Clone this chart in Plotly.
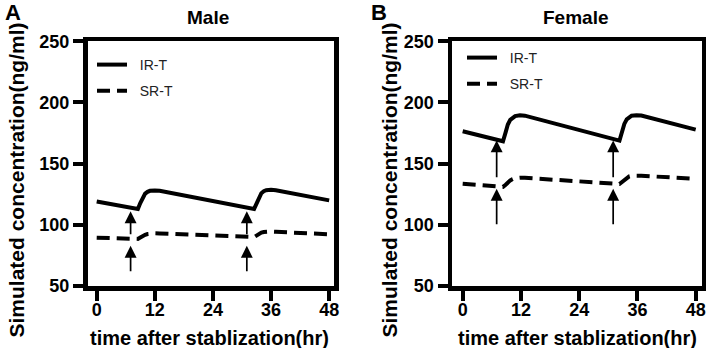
import plotly.graph_objects as go

# ---------------- data ----------------
x_ticks = [0, 12, 24, 36, 48]
y_ticks = [50, 100, 150, 200, 250]

male_ir_t = [0, 8.5, 9.0, 9.5, 10.0, 10.5, 11.0, 12.0, 13.0, 32.5, 33.0, 33.5, 34.0, 34.5, 35.0, 36.0, 37.0, 48]
male_ir = [119.0, 112.9, 117.8, 122.3, 125.5, 127.0, 127.8, 128.1, 127.8, 113.0, 117.9, 122.6, 125.9, 127.5, 128.3, 128.6, 128.3, 120.0]

male_sr_t = [0, 7.5, 8.5, 9.0, 9.5, 10.0, 10.5, 11.0, 12.0, 13.0, 32.5, 33.0, 33.5, 34.0, 34.5, 35.0, 36.0, 37.0, 48]
male_sr = [89.5, 88.9, 88.5, 89.6, 90.9, 91.9, 92.5, 92.9, 93.1, 93.0, 90.0, 91.2, 92.6, 93.6, 94.1, 94.4, 94.5, 94.3, 92.3]

female_ir_t = [0, 8.3, 8.8, 9.3, 9.8, 10.3, 10.8, 11.8, 12.8, 32.3, 32.8, 33.3, 33.8, 34.3, 34.8, 35.8, 36.8, 48]
female_ir = [176.5, 168.3, 175.0, 182.0, 185.8, 187.8, 188.9, 189.5, 189.2, 168.8, 175.5, 182.5, 186.2, 188.2, 189.2, 189.6, 189.3, 177.8]

female_sr_t = [0, 7.5, 8.3, 8.8, 9.3, 9.8, 10.3, 10.8, 11.8, 12.8, 32.3, 32.8, 33.3, 33.8, 34.3, 34.8, 35.8, 36.8, 48]
female_sr = [133.5, 131.8, 131.0, 132.6, 134.6, 136.3, 137.4, 138.1, 138.5, 138.4, 133.4, 134.8, 136.8, 138.5, 139.6, 140.1, 140.3, 140.1, 137.6]

# dosing arrows: times, (tip, tail) of upper and lower arrows
dose_times = [7, 31]
male_arrow_upper = [111.0, 91.0]
male_arrow_lower = [82.8, 60.9]
female_arrow_upper = [169.0, 137.6]
female_arrow_lower = [129.4, 99.2]

panel_titles = ["Male", "Female"]
panel_letters = ["A", "B"]
series_names = ["IR-T", "SR-T"]
y_title = "Simulated concentration(ng/ml)"
x_title = "time after stablization(hr)"

# ---------------- layout helpers ----------------
W, H = 706, 348
FONT = "Liberation Sans, Arial, sans-serif"


def fx(p):
    return p / W


def fy(p):
    return 1 - p / H


fig = go.Figure()

line_solid = dict(color="black", width=4)
line_dash = dict(color="black", width=4, dash="13px,7px")
pad = "&nbsp;&nbsp;"

fig.add_trace(go.Scatter(x=male_ir_t, y=male_ir, mode="lines", line=line_solid, name=pad + series_names[0],
                         legend="legend", legendgroup="a1", xaxis="x", yaxis="y"))
fig.add_trace(go.Scatter(x=male_sr_t, y=male_sr, mode="lines", line=line_dash, name=pad + series_names[1],
                         legend="legend", legendgroup="a2", xaxis="x", yaxis="y"))
fig.add_trace(go.Scatter(x=female_ir_t, y=female_ir, mode="lines", line=line_solid, name=pad + series_names[0],
                         legend="legend2", legendgroup="b1", xaxis="x2", yaxis="y2"))
fig.add_trace(go.Scatter(x=female_sr_t, y=female_sr, mode="lines", line=line_dash, name=pad + series_names[1],
                         legend="legend2", legendgroup="b2", xaxis="x2", yaxis="y2"))

tickfont = dict(family=FONT, size=18, color="black", weight="bold")
common_axis = dict(showline=True, linewidth=4.5, linecolor="black", mirror=True,
                   ticks="outside", ticklen=10, tickwidth=4, tickcolor="black",
                   showgrid=False, zeroline=False, tickfont=tickfont, automargin=False,
                   fixedrange=True)
xt = dict(tickvals=x_ticks, ticktext=["<b>%d</b>" % v for v in x_ticks], ticklabelstandoff=-6)
yt = dict(tickvals=y_ticks, ticktext=["<b>%d</b>" % v for v in y_ticks])

fig.update_layout(
    template="none",
    width=W, height=H, autosize=False,
    margin=dict(l=0, r=0, t=0, b=0),
    paper_bgcolor="white", plot_bgcolor="white",
    xaxis=dict(domain=[fx(87.5), fx(334)], range=[-1.9, 49], anchor="y", **xt, **common_axis),
    yaxis=dict(domain=[fy(286), fy(41.3)], range=[50, 250], anchor="x", **yt, **common_axis),
    xaxis2=dict(domain=[fx(452), fx(702)], range=[-2.2, 49.3], anchor="y2", **xt, **common_axis),
    yaxis2=dict(domain=[fy(286), fy(41.3)], range=[50, 250], anchor="x2", **yt, **common_axis),
    legend=dict(x=fx(92), y=fy(49), xanchor="left", yanchor="top", bgcolor="rgba(0,0,0,0)",
                font=dict(family=FONT, size=14, color="#222"), tracegroupgap=5),
    legend2=dict(x=fx(462), y=fy(42), xanchor="left", yanchor="top", bgcolor="rgba(0,0,0,0)",
                 font=dict(family=FONT, size=14, color="#222"), tracegroupgap=5),
)

ann = []
bold = lambda s: dict(family=FONT, size=s, color="black", weight="bold")
# panel titles
ann.append(dict(text=panel_titles[0], x=fx(208), y=fy(18), xref="paper", yref="paper",
                showarrow=False, font=bold(19), xanchor="center", yanchor="middle"))
ann.append(dict(text=panel_titles[1], x=fx(575.5), y=fy(18), xref="paper", yref="paper",
                showarrow=False, font=bold(19), xanchor="center", yanchor="middle"))
# panel letters
ann.append(dict(text=panel_letters[0], x=fx(13), y=fy(13), xref="paper", yref="paper",
                showarrow=False, font=bold(22), xanchor="center", yanchor="middle"))
ann.append(dict(text=panel_letters[1], x=fx(379), y=fy(13), xref="paper", yref="paper",
                showarrow=False, font=bold(22), xanchor="center", yanchor="middle"))
# axis titles
for cx in (16, 389):
    ann.append(dict(text=y_title, x=fx(cx), y=fy(180.5), xref="paper", yref="paper", textangle=-90,
                    showarrow=False, font=bold(21), xanchor="center", yanchor="middle"))
for cx in (209, 577):
    ann.append(dict(text=x_title, x=fx(cx), y=fy(337.5), xref="paper", yref="paper",
                    showarrow=False, font=bold(20), xanchor="center", yanchor="middle"))


# arrows
def arrow(xr, yr, t, tip, tail):
    return dict(x=t, y=tip, ax=t, ay=tail, xref=xr, yref=yr, axref=xr, ayref=yr, text="",
                showarrow=True, arrowhead=2, arrowsize=1.4, arrowwidth=1.7, arrowcolor="black",
                standoff=0, startstandoff=0)


for t in dose_times:
    ann.append(arrow("x", "y", t, male_arrow_upper[0], male_arrow_upper[1]))
    ann.append(arrow("x", "y", t, male_arrow_lower[0], male_arrow_lower[1]))
    ann.append(arrow("x2", "y2", t, female_arrow_upper[0], female_arrow_upper[1]))
    ann.append(arrow("x2", "y2", t, female_arrow_lower[0], female_arrow_lower[1]))

fig.update_layout(annotations=ann)

fig.write_html("out.html", config={"displayModeBar": False, "staticPlot": True},
               post_script="document.body.style.margin='0px';document.body.style.overflow='hidden';")
